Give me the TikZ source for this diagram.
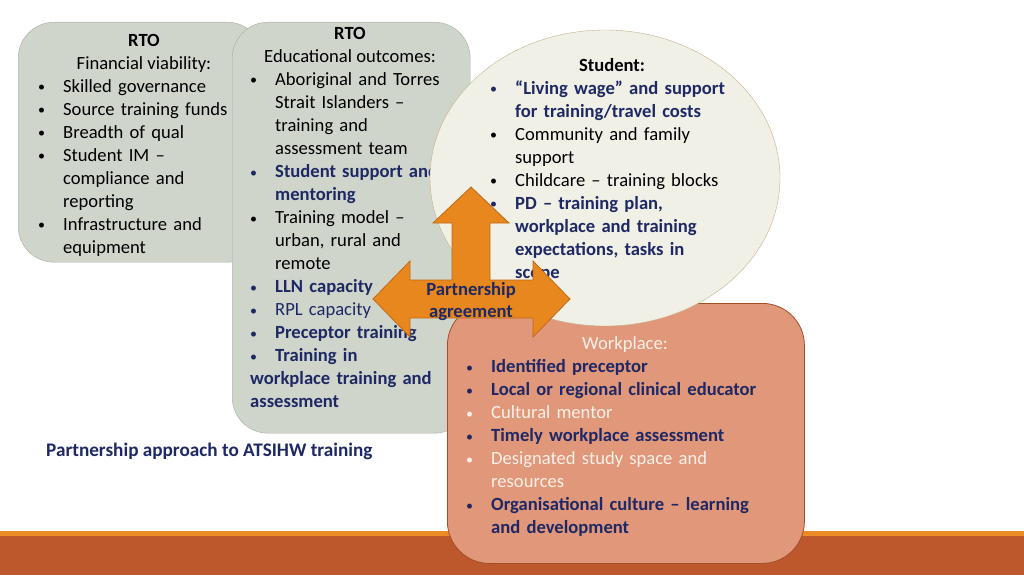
\documentclass[tikz,border=0pt]{standalone}
\usepackage{fontspec}
\setmainfont{Carlito}
\usetikzlibrary{shapes.geometric}

\definecolor{rtofill}{RGB}{207,213,203}
\definecolor{rtoline}{RGB}{165,172,160}
\definecolor{stufill}{RGB}{241,240,230}
\definecolor{stuline}{RGB}{196,178,138}
\definecolor{wpfill}{RGB}{224,151,122}
\definecolor{wpline}{RGB}{160,78,40}
\definecolor{arrfill}{RGB}{232,135,30}
\definecolor{arrline}{RGB}{190,105,25}
\definecolor{navy}{RGB}{30,40,100}
\definecolor{wptext}{RGB}{252,240,232}
\definecolor{bandline}{RGB}{236,140,36}
\definecolor{bandfill}{RGB}{188,88,44}

\newcommand{\nl}{\hfil\break}
\newcommand{\pbul}{\makebox[25pt][l]{\strut\raisebox{0.6pt}{\fontsize{14}{14}\selectfont\mdseries\textbullet}}}
\newcommand{\pitem}[2][]{\par{#1\noindent\hangindent=25pt\hangafter=1\pbul#2\par}}

\begin{document}
\begin{tikzpicture}[x=1pt, y=-1pt,
	every node/.style={inner sep=0pt, font=\fontsize{18.6}{23}\selectfont},
	rtobox/.style={draw=rtoline, fill=rtofill, rounded corners=36pt, anchor=north west},
	stubox/.style={ellipse, draw=stuline, fill=stufill, minimum width=350pt, minimum height=296pt},
	wpbox/.style={draw=wpline, fill=wpfill, thick, rounded corners=42pt, anchor=north west},
	list/.style={anchor=north west, text width=330pt, align=left},
	pashape/.style={draw=arrline, fill=arrfill, line width=0.8pt}]
		\useasboundingbox (0,0) rectangle (1024,575);
		\fill[bandline] (0,531) rectangle (1024,536);
		\fill[bandfill] (0,536) rectangle (1024,575);
		
		% RTO - financial
		\node[rtobox, minimum width=245pt, minimum height=240pt] (rto1) at (18,22) {};
		\node[anchor=north, align=center] (rto1t) at (144,29.9) {\strut\textbf{RTO}\\Financial viability:};
		\node[list] (rto1l) at (38,68.9) {\pitem{Skilled governance}\pitem{Source training funds}\pitem{Breadth of qual}\pitem{Student IM –\nl compliance and\nl reporting}\pitem{Infrastructure and\nl equipment}};
		
		% RTO - educational
		\node[rtobox, minimum width=238pt, minimum height=411pt] (rto2) at (232,22) {};
		\node[anchor=north, align=center] (rto2t) at (350,23.4) {\strut\textbf{RTO}\\Educational outcomes:};
		\node[list] (rto2l) at (250,62.4) {\pitem{Aboriginal and Torres\nl Strait Islanders –\nl training and\nl assessment team}\pitem[\color{navy}\bfseries]{Student support and\nl mentoring}\pitem{Training model –\nl urban, rural and\nl remote}\pitem[\color{navy}\bfseries]{LLN capacity}\pitem[\color{navy}]{RPL capacity}\pitem[\color{navy}\bfseries]{Preceptor training}\par{\color{navy}\bfseries\noindent\pbul Training in\nl workplace training and\nl assessment\par}};
		
		% workplace
		\node[wpbox, minimum width=357pt, minimum height=260pt] (wp) at (447,303) {};
		\node[anchor=base, text=wptext] (wpt) at (625,349.5) {Workplace:};
		\node[list] (wpl) at (466,349.4) {\pitem[\color{navy}\bfseries]{Identified preceptor}\pitem[\color{navy}\bfseries]{Local or regional clinical educator}\pitem[\color{wptext}]{Cultural mentor}\pitem[\color{navy}\bfseries]{Timely workplace assessment}\pitem[\color{wptext}]{Designated study space and\nl resources}\pitem[\color{navy}\bfseries]{Organisational culture – learning\nl and development}};
		
		% student
		\node[stubox] (stu) at (605,178) {};
		\node[anchor=base] (stut) at (612,71.7) {\textbf{Student:}};
		\node[list] (stul) at (490,71.4) {\pitem[\color{navy}\bfseries]{“Living wage” and support\nl for training/travel costs}\pitem{Community and family\nl support}\pitem{Childcare – training blocks}\pitem[\color{navy}\bfseries]{PD – training plan,\nl workplace and training\nl expectations, tasks in\nl scope}};
		
		% partnership arrow
		\coordinate (pc) at (471,299);
		\draw[pashape, shift={(pc)}] (0,-112) -- (38,-76) -- (19,-76) -- (19,-19) -- (62,-19) -- (62,-38) -- (99,0) -- (62,38) -- (62,19) -- (-61,19) -- (-61,38) -- (-98,0) -- (-61,-38) -- (-61,-19) -- (-19,-19) -- (-19,-76) -- (-38,-76) -- cycle;
		\node[anchor=north, align=center, font=\fontsize{18.6}{22}\selectfont\bfseries, text=navy] (pa) at (471,279.6) {\strut Partnership\\agreement};
		
		\node[anchor=base west, font=\fontsize{19.2}{23}\selectfont\bfseries, text=navy] (cap) at (46,456) {Partnership approach to ATSIHW training};
	\end{tikzpicture}
\end{document}
